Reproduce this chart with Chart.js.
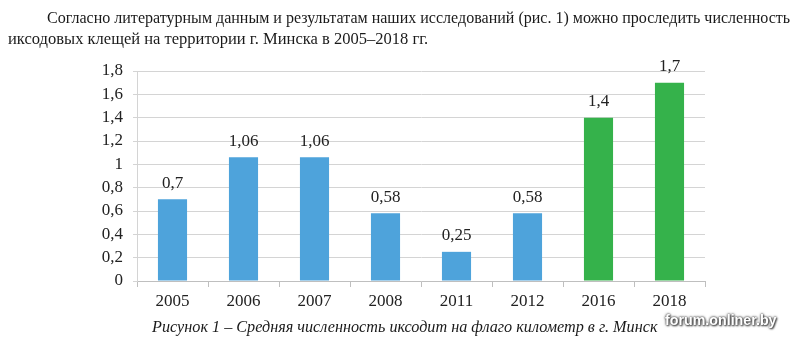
<!DOCTYPE html>
<html>
<head>
<meta charset="utf-8">
<script src="https://cdn.jsdelivr.net/npm/chart.js"></script>
<style>
  html, body { margin: 0; padding: 0; background: #fff; }
  #page { position: relative; width: 800px; height: 342px; overflow: hidden; }
  #chart { position: absolute; left: 0; top: 0; }
  .line { position: absolute; white-space: nowrap; font-family: "Liberation Serif", "Times New Roman", serif;
          color: #1a1a1a; line-height: 20px; transform-origin: 0 0; }
  #p1 { left: 47px; top: 8px; font-size: 17px; }
  #p2 { left: 8px; top: 29px; font-size: 17px; }
  #caption { left: 152px; top: 317px; font-size: 16px; font-style: italic; }
  #mark { position: absolute; left: 665px; top: 311px; white-space: nowrap; transform-origin: 0 0;
          font-family: "Liberation Sans", Arial, sans-serif; font-weight: bold; font-size: 15px; color: #fff;
          text-shadow: 0 0 2px #444, 0 0 3px #555, 1px 1px 2px #333; }
</style>
</head>
<body>
<div id="page">
  <canvas id="chart" width="800" height="342"></canvas>
  <div class="line" id="p1" data-w="743">Согласно литературным данным и результатам наших исследований (рис. 1) можно проследить численность</div>
  <div class="line" id="p2" data-w="420">иксодовых клещей на территории г. Минска в 2005–2018 гг.</div>
  <div class="line" id="caption" data-w="505">Рисунок 1 – Средняя численность иксодит на флаго километр в г. Минск</div>
  <div id="mark" data-w="112">forum.onliner.by</div>
</div>
<script>
  // Years and mean tick counts per flag-kilometre
  const years = ['2005', '2006', '2007', '2008', '2011', '2012', '2016', '2018'];
  const values = [0.7, 1.06, 1.06, 0.58, 0.25, 0.58, 1.4, 1.7];
  const yTickValues = [0, 0.2, 0.4, 0.6, 0.8, 1, 1.2, 1.4, 1.6, 1.8];
  const yTickLabels = ['0', '0,2', '0,4', '0,6', '0,8', '1', '1,2', '1,4', '1,6', '1,8'];

  // the last two years are drawn green
  const barColors = ['#4ea3db', '#4ea3db', '#4ea3db', '#4ea3db', '#4ea3db', '#4ea3db', '#35b24b', '#35b24b'];

  const serif = { family: '"Liberation Serif", "Times New Roman", serif', size: 17 };

  // squeeze text lines to their measured widths
  document.querySelectorAll('[data-w]').forEach(el => {
    const w = el.scrollWidth;
    el.style.transform = 'scaleX(' + (Number(el.dataset.w) / w) + ')';
  });

  const valueLabels = {
    id: 'valueLabels',
    afterDatasetsDraw(chart) {
      const ctx = chart.ctx;
      const meta = chart.getDatasetMeta(0);
      ctx.save();
      ctx.font = serif.size + 'px ' + serif.family;
      ctx.fillStyle = '#222';
      ctx.textAlign = 'center';
      ctx.textBaseline = 'middle';
      meta.data.forEach((bar, i) => {
        ctx.fillText(String(values[i]).replace('.', ','), bar.x, bar.y - 16);
      });
      ctx.restore();
    }
  };

  new Chart(document.getElementById('chart'), {
    type: 'bar',
    data: {
      labels: years,
      datasets: [{
        data: values,
        backgroundColor: barColors,
        borderWidth: 0,
        categoryPercentage: 1,
        barPercentage: 0.41
      }]
    },
    options: {
      responsive: false,
      animation: false,
      events: [],
      layout: { padding: { left: 0, top: 71, right: 95, bottom: 31 } },
      plugins: { legend: { display: false }, tooltip: { enabled: false } },
      scales: {
        x: {
          grid: { drawOnChartArea: false, tickLength: 6, color: '#bfbfbf', offset: true },
          border: { color: '#bfbfbf' },
          ticks: { font: serif, color: '#222', padding: 4 },
          afterFit(scale) { scale.height = 30; }
        },
        y: {
          min: 0,
          max: 1.8,
          afterBuildTicks(scale) {
            scale.ticks = yTickValues.map(v => ({ value: v }));
          },
          ticks: {
            autoSkip: false,
            font: serif,
            color: '#222',
            padding: 10,
            callback: (v, i) => yTickLabels[i]
          },
          grid: { color: '#d4d4d4', tickLength: 4 },
          border: { color: '#d4d4d4' },
          afterFit(scale) { scale.width = 137; }
        }
      }
    },
    plugins: [valueLabels]
  });
</script>
</body>
</html>
